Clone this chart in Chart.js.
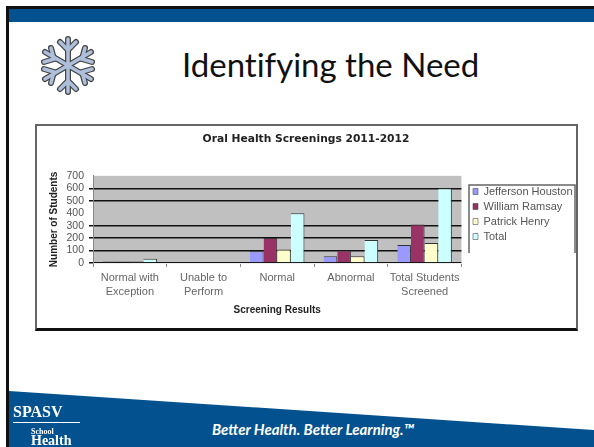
<!DOCTYPE html>
<html>
<head>
<meta charset="utf-8">
<script src="https://cdn.jsdelivr.net/npm/chart.js@4"></script>
<style>
html, body { margin: 0; padding: 0; background: #fff; }
#slide { position: relative; width: 594px; height: 447px; overflow: hidden; }
#decor { position: absolute; left: 0; top: 0; }
#heading { position: absolute; left: 182px; top: 44px; font: 33px Lato, sans-serif; font-variant-ligatures: none; color: #111; white-space: nowrap; }
#tagline { position: absolute; left: 212px; top: 420px; font: italic bold 15px Lato, sans-serif; color: #fff; white-space: nowrap; }
#logo { position: absolute; left: 13px; top: 403px; height: 19px; width: 67px; font: bold 16px "Liberation Serif", serif; color: #fff; border-bottom: 1.5px solid #fff; white-space: nowrap; filter: blur(0.5px); }
#logo2 { position: absolute; left: 31px; top: 427px; font: bold 8px "Liberation Serif", serif; line-height: 9px; color: #fff; filter: blur(0.5px); }
#logo2 span { font-size: 14px; }
#frame { position: absolute; left: 35px; top: 124px; border: solid #666; border-width: 2px 2px 3px 2px; border-bottom-color: #111; }
canvas { display: block; filter: blur(0.4px); }
</style>
</head>
<body>
<div id="slide">
  <svg id="decor" width="594" height="447">
    <rect x="6" y="6" width="588" height="3" fill="#111"/>
    <rect x="6" y="6" width="3" height="441" fill="#111"/>
    <rect x="9" y="9" width="585" height="13" fill="#03528f"/>
    <polygon points="9,391 594,430 594,447 9,447" fill="#03528f"/>
    <g stroke="#444" stroke-width="6" fill="none" stroke-linecap="round">
      <path d="M68 39V92M45 52L91 79M45 79L91 52"/>
      <path d="M60 42L68 50L76 42M60 89L68 81L76 89M44 62L54 59L51 48M92 69L82 72L85 83M44 69L54 72L51 83M92 62L82 59L85 48"/>
    </g>
    <g stroke="#aebfdc" stroke-width="3.5" fill="none" stroke-linecap="round">
      <path d="M68 39V92M45 52L91 79M45 79L91 52"/>
      <path d="M60 42L68 50L76 42M60 89L68 81L76 89M44 62L54 59L51 48M92 69L82 72L85 83M44 69L54 72L51 83M92 62L82 59L85 48"/>
    </g>
  </svg>
  <div id="heading">Identifying the Need</div>
  <div id="logo">SPASV</div>
  <div id="logo2">School<br><span>Health</span></div>
  <div id="tagline">Better Health. Better Learning.™</div>
  <div id="frame"><canvas id="chart" width="539" height="202"></canvas></div>
</div>
<script>
const categories = [["Normal with", "Exception"], ["Unable to", "Perform"], "Normal", "Abnormal", ["Total Students", "Screened"]];
const jeffersonHouston = [12, 0, 95, 55, 145];
const williamRamsay = [12, 0, 200, 100, 310];
const patrickHenry = [12, 0, 108, 55, 160];
const total = [35, 0, 400, 185, 600];
const yTicks = [0, 100, 200, 300, 400, 500, 600, 700];

function makeSet(label, data, color) {
    return {
        label: label,
        data: data,
        backgroundColor: color,
        borderColor: "#333",
        borderWidth: { top: 1, left: 0, right: 1, bottom: 0 },
        categoryPercentage: 0.74,
        barPercentage: 1
    };
}

// grey plot background, and the box round the legend (no bottom edge in the original)
const chartDecor = {
    id: "chartDecor",
    afterLayout(chart) {
        // legend sits apart from the plot here, legend clips to its own box so move all sides
        chart.legend.left = 432;
        chart.legend.right = 539;
        chart.legend.top = 56;
        chart.legend.bottom = 130;
    },
    beforeDraw(chart) {
        const a = chart.chartArea;
        chart.ctx.fillStyle = "#c0c0c0";
        chart.ctx.fillRect(a.left, a.top, a.right - a.left, a.bottom - a.top);
    },
    afterDraw(chart) {
        const ctx = chart.ctx;
        ctx.strokeStyle = "#666";
        ctx.lineWidth = 1.5;
        ctx.beginPath();
        ctx.moveTo(432, 127);
        ctx.lineTo(432, 59);
        ctx.lineTo(538, 59);
        ctx.lineTo(538, 127);
        ctx.stroke();
    }
};

new Chart(document.getElementById("chart"), {
    type: "bar",
    data: {
        labels: categories,
        datasets: [
            makeSet("Jefferson Houston", jeffersonHouston, "#9999ff"),
            makeSet("William Ramsay", williamRamsay, "#993366"),
            makeSet("Patrick Henry", patrickHenry, "#ffffcc"),
            makeSet("Total", total, "#ccffff")
        ]
    },
    options: {
        responsive: false,
        animation: false,
        layout: { padding: { top: 0, left: 0, right: 1, bottom: 0 } },
        plugins: {
            title: {
                display: true,
                text: "Oral Health Screenings 2011-2012",
                color: "#222",
                font: { family: "DejaVu Sans", size: 10.7, weight: "bold" },
                padding: { top: 7, bottom: 30 }
            },
            legend: {
                position: "right",
                align: "start",
                labels: {
                    boxWidth: 5,
                    boxHeight: 6,
                    padding: 4,
                    color: "#555",
                    font: { family: "Liberation Sans", size: 11 }
                }
            },
            tooltip: { enabled: false }
        },
        scales: {
            x: {
                afterFit(axis) {
                    axis.height = 65;
                },
                grid: { drawOnChartArea: false, drawTicks: true, tickLength: 4, color: "#888" },
                border: { color: "#eee", width: 1 },
                ticks: {
                    color: "#666",
                    maxRotation: 0,
                    autoSkip: false,
                    font: { family: "Liberation Sans", size: 11, lineHeight: 1.3 },
                    padding: 4
                },
                title: {
                    display: true,
                    text: "Screening Results",
                    color: "#222",
                    font: { family: "Liberation Sans", size: 10, weight: "bold" },
                    padding: { top: 0, bottom: 12 }
                }
            },
            y: {
                min: 0,
                max: 700,
                afterBuildTicks(axis) {
                    axis.ticks = yTicks.map(v => ({ value: v }));
                },
                afterFit(axis) {
                    axis.width = 56;
                },
                grid: {
                    // the 400 line and the top edge don't show in the original
                    color: ctx => (ctx.tick.value === 400 || ctx.tick.value === 700 ? "rgba(0,0,0,0)" : "#111"),
                    lineWidth: 1.5,
                    drawTicks: true,
                    tickLength: 4
                },
                border: { color: "#888" },
                ticks: {
                    color: "#555",
                    padding: 5,
                    autoSkip: false,
                    font: { family: "Liberation Sans", size: 10.5 }
                },
                title: {
                    display: true,
                    text: "Number of Students",
                    color: "#222",
                    font: { family: "Liberation Sans", size: 10, weight: "bold" },
                    padding: { top: 11, bottom: 0 }
                }
            }
        }
    },
    plugins: [chartDecor]
});
</script>
</body>
</html>
